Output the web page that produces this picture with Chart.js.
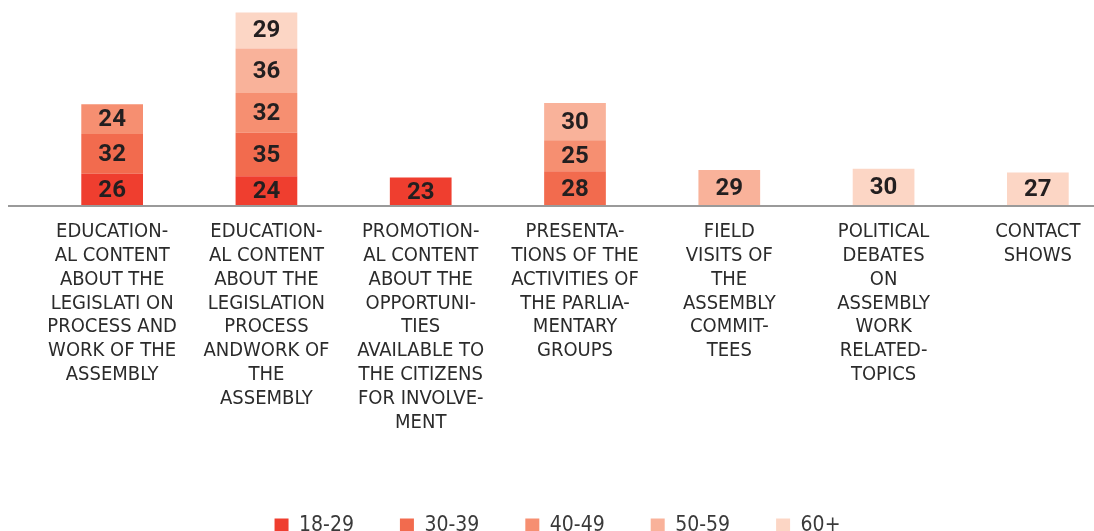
<!DOCTYPE html>
<html>
<head>
<meta charset="utf-8">
<script src="https://cdn.jsdelivr.net/npm/chart.js@4.4.1/dist/chart.umd.min.js"></script>
<style>
    html, body { margin: 0; padding: 0; background: #fff; }
    #wrap { width: 1094px; height: 531px; overflow: hidden; position: relative; }
    #chart { position: absolute; left: 0; top: 0; }
</style>
</head>
<body>
<div id="wrap"><canvas id="chart" width="1120" height="560"></canvas></div>
<script>
// categories (x axis labels, already broken into lines like the original)
const categories = [
    ['EDUCATION-', 'AL CONTENT', 'ABOUT THE', 'LEGISLATI ON', 'PROCESS AND', 'WORK OF THE', 'ASSEMBLY'],
    ['EDUCATION-', 'AL CONTENT', 'ABOUT THE', 'LEGISLATION', 'PROCESS', 'ANDWORK OF', 'THE', 'ASSEMBLY'],
    ['PROMOTION-', 'AL CONTENT', 'ABOUT THE', 'OPPORTUNI-', 'TIES', 'AVAILABLE TO', 'THE CITIZENS', 'FOR INVOLVE-', 'MENT'],
    ['PRESENTA-', 'TIONS OF THE', 'ACTIVITIES OF', 'THE PARLIA-', 'MENTARY', 'GROUPS'],
    ['FIELD', 'VISITS OF', 'THE', 'ASSEMBLY', 'COMMIT-', 'TEES'],
    ['POLITICAL', 'DEBATES', 'ON', 'ASSEMBLY', 'WORK', 'RELATED-', 'TOPICS'],
    ['CONTACT', 'SHOWS']
];

// age groups
const ageGroups = ['18-29', '30-39', '40-49', '50-59', '60+'];

// values per age group, one per category (null = no bar)
const age18to29 = [26, 24, 23, null, null, null, null];
const age30to39 = [32, 35, null, 28, null, null, null];
const age40to49 = [24, 32, null, 25, null, null, null];
const age50to59 = [null, 36, null, 30, 29, null, null];
const age60plus = [null, 29, null, null, null, 30, 27];

const colors = ['#EF3E2F', '#F26B4E', '#F68F71', '#F9B29A', '#FCD6C5'];

const narrowFont = '"Liberation Sans Narrow", "Arial Narrow", "DejaVu Sans Condensed", sans-serif';

const seriesValues = [age18to29, age30to39, age40to49, age50to59, age60plus];

// numbers in the middle of each segment
const segmentLabels = {
    id: 'segmentLabels',
    afterDatasetsDraw(chart) {
        const ctx = chart.ctx;
        ctx.save();
        ctx.font = 'bold 24px Roboto, "Liberation Sans", sans-serif';
        ctx.fillStyle = '#231F20';
        ctx.textAlign = 'center';
        ctx.textBaseline = 'middle';
        chart.data.datasets.forEach((ds, i) => {
            const meta = chart.getDatasetMeta(i);
            meta.data.forEach((bar, j) => {
                const v = ds.data[j];
                if (v === null || v === undefined) return;
                const p = bar.getProps(['x', 'y', 'base'], true);
                ctx.fillText(String(v), p.x, (p.y + p.base) / 2 + 1);
            });
        });
        ctx.restore();
    }
};

// grey baseline running out past the left edge of the plot
const baseLine = {
    id: 'baseLine',
    afterDatasetsDraw(chart) {
        const ctx = chart.ctx;
        const y = chart.scales.y.getPixelForValue(0);
        ctx.save();
        ctx.strokeStyle = '#9A9A9A';
        ctx.lineWidth = 2;
        ctx.beginPath();
        ctx.moveTo(8, y);
        ctx.lineTo(chart.width, y);
        ctx.stroke();
        ctx.restore();
    }
};

new Chart(document.getElementById('chart'), {
    type: 'bar',
    data: {
        labels: categories,
        datasets: ageGroups.map((name, i) => ({
            label: name,
            data: seriesValues[i],
            backgroundColor: colors[i],
            borderWidth: 0,
            barPercentage: 0.4,
            categoryPercentage: 1
        }))
    },
    options: {
        responsive: false,
        animation: false,
        layout: { padding: { left: 0, right: 5, top: 0, bottom: 14 } },
        plugins: {
            tooltip: { enabled: false },
            legend: {
                position: 'bottom',
                labels: {
                    boxWidth: 14,
                    boxHeight: 14,
                    padding: 46,
                    color: '#3A3A3A',
                    font: { family: narrowFont, size: 21 }
                }
            }
        },
        scales: {
            x: {
                stacked: true,
                offset: true,
                grid: { display: false },
                border: { display: false },
                ticks: {
                    autoSkip: false,
                    maxRotation: 0,
                    minRotation: 0,
                    padding: 6,
                    color: '#2B2B2B',
                    font: { family: narrowFont, size: 20, lineHeight: 1.19 }
                },
                afterFit(scale) { scale.height = 263; }
            },
            y: {
                stacked: true,
                min: 0,
                max: 166,
                grid: { display: false },
                border: { display: false },
                ticks: { display: false },
                // empty left margin, keeps the legend centred on the whole picture
                afterFit(scale) { scale.width = 35; }
            }
        }
    },
    plugins: [segmentLabels, baseLine]
});
</script>
</body>
</html>
